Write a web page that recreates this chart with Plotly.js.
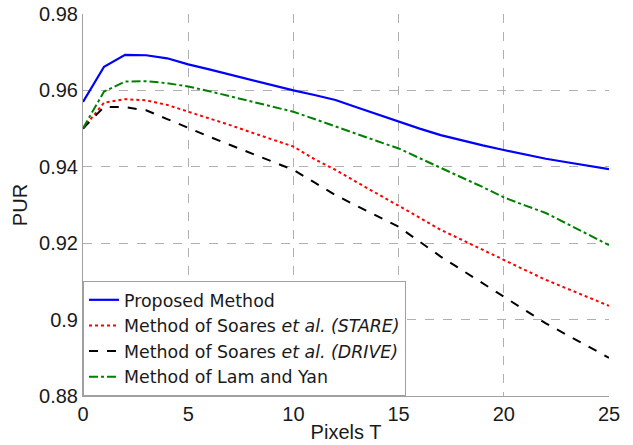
<!DOCTYPE html>
<html>
<head>
<meta charset="utf-8">
<script src="https://cdn.plot.ly/plotly-3.0.1.min.js"></script>
<style>html,body{margin:0;padding:0;background:#fff;}#chart{width:633px;height:445px;}</style>
</head>
<body>
<div id="chart"></div>
<script>
const pixelsT = [0,1,2,3,4,5,6,7,8,9,10,11,12,13,14,15,16,17,18,19,20,21,22,23,24,25];
const proposed = [0.9570,0.9662,0.9693,0.9692,0.9684,0.9668,0.9655,0.9641,0.9627,0.9613,0.9600,0.9588,0.9575,0.9556,0.9537,0.9518,0.9500,0.9483,0.9469,0.9456,0.9444,0.9432,0.9421,0.9412,0.9403,0.9394];
const soaresStare = [0.9500,0.9568,0.9577,0.9574,0.9562,0.9545,0.9527,0.9509,0.9490,0.9472,0.9453,0.9420,0.9392,0.9360,0.9328,0.9298,0.9267,0.9235,0.9209,0.9182,0.9156,0.9130,0.9104,0.9081,0.9058,0.9036];
const soaresDrive = [0.9500,0.9557,0.9556,0.9548,0.9525,0.9501,0.9479,0.9457,0.9436,0.9414,0.9392,0.9359,0.9326,0.9298,0.9271,0.9243,0.9204,0.9165,0.9130,0.9095,0.9060,0.9025,0.8990,0.8960,0.8930,0.8900];
const lamYan = [0.9501,0.9597,0.9623,0.9624,0.9619,0.9610,0.9598,0.9585,0.9571,0.9558,0.9544,0.9525,0.9505,0.9486,0.9467,0.9448,0.9422,0.9396,0.9372,0.9347,0.9320,0.9299,0.9279,0.9251,0.9223,0.9195];
const seriesNames = ['Proposed Method','Method of Soares <i>et al. (STARE)</i>','Method of Soares <i>et al. (DRIVE)</i>','Method of Lam and Yan'];
const xTicks = [0,5,10,15,20,25];
const yTicks = [0.88,0.9,0.92,0.94,0.96,0.98];
const yTickText = ['0.88','0.9','0.92','0.94','0.96','0.98'];

const traces = [
  {x: pixelsT, y: proposed, name: seriesNames[0], mode:'lines', line:{color:'#0000ff', width:2.2, dash:'solid'}},
  {x: pixelsT, y: soaresStare, name: seriesNames[1], mode:'lines', line:{color:'#ff0000', width:2, dash:'dot'}},
  {x: pixelsT, y: soaresDrive, name: seriesNames[2], mode:'lines', line:{color:'#000000', width:2, dash:'dash'}},
  {x: pixelsT, y: lamYan, name: seriesNames[3], mode:'lines', line:{color:'#008000', width:2, dash:'dashdot'}}
];
const gridStyle = {showgrid:true, gridcolor:'#b0b0b0', griddash:'dash', gridwidth:1};
const layout = {
  width:633, height:445,
  margin:{l:83, r:24, t:14, b:49},
  paper_bgcolor:'#ffffff', plot_bgcolor:'#ffffff',
  font:{family:'Liberation Sans, Arial, sans-serif', size:20, color:'#1a1a1a'},
  xaxis:Object.assign({range:[0,25], tickvals:xTicks, ticktext:xTicks.map(String), showline:true, linecolor:'#a0a0a0', linewidth:1,
    ticks:'', zeroline:false, mirror:false,
    title:{text:'Pixels T', standoff:0, font:{size:20}}, tickfont:{size:20}}, gridStyle),
  yaxis:Object.assign({range:[0.88,0.98], tickvals:yTicks, ticktext:yTickText, showline:true, linecolor:'#a0a0a0', linewidth:1,
    ticks:'', zeroline:false, mirror:false,
    title:{text:'PUR', standoff:6, font:{size:20}}, tickfont:{size:20}}, gridStyle),
  legend:{x:0, y:0, xanchor:'left', yanchor:'bottom', bgcolor:'#ffffff', bordercolor:'#a0a0a0', borderwidth:1,
    font:{family:'DejaVu Sans, sans-serif', size:17.4, color:'#1a1a1a'}, tracegroupgap:0, itemwidth:30},
  showlegend:true
};
Plotly.newPlot('chart', traces, layout, {displayModeBar:false, staticPlot:true});
</script>
</body>
</html>
